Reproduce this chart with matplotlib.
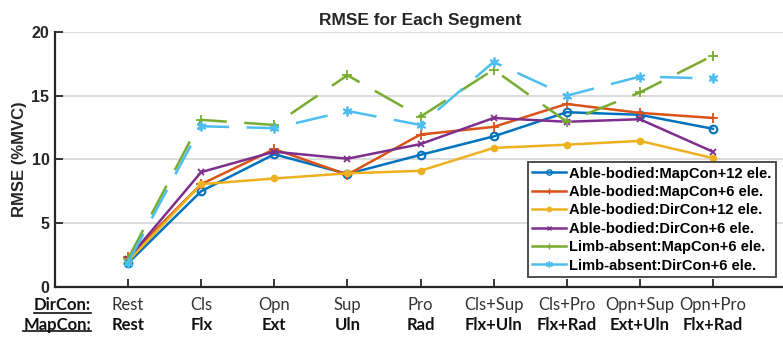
import matplotlib
matplotlib.use("Agg")
import matplotlib.pyplot as plt
from matplotlib.lines import Line2D
import matplotlib.transforms as mtrans

dircon_labels = ["Rest", "Cls", "Opn", "Sup", "Pro", "Cls+Sup", "Cls+Pro", "Opn+Sup", "Opn+Pro"]
mapcon_labels = ["Rest", "Flx", "Ext", "Uln", "Rad", "Flx+Uln", "Flx+Rad", "Ext+Uln", "Flx+Rad"]

ab_map12 = [1.85, 7.5, 10.4, 8.85, 10.35, 11.8, 13.7, 13.5, 12.4]
ab_map6 = [2.3, 8.05, 10.8, 8.8, 11.95, 12.55, 14.35, 13.65, 13.25]
ab_dir12 = [2.0, 8.05, 8.5, 8.9, 9.1, 10.9, 11.15, 11.45, 10.1]
ab_dir6 = [2.2, 9.0, 10.6, 10.05, 11.2, 13.25, 12.95, 13.15, 10.6]
la_map6 = [2.2, 13.1, 12.7, 16.6, 13.35, 17.05, 12.95, 15.25, 18.15]
la_dir6 = [1.9, 12.6, 12.45, 13.8, 12.7, 17.65, 15.0, 16.5, 16.35]

series_names = ["Able-bodied:MapCon+12 ele.", "Able-bodied:MapCon+6 ele.",
                "Able-bodied:DirCon+12 ele.", "Able-bodied:DirCon+6 ele.",
                "Limb-absent:MapCon+6 ele.", "Limb-absent:DirCon+6 ele."]

x = list(range(1, len(dircon_labels) + 1))

fig = plt.figure(figsize=(7.83, 3.37), dpi=100)
ax = fig.add_axes([55/783, (337-286.7)/337, 731/783, (286.7-32)/337])

base = "Liberation Sans"
styles = [
    dict(color="#0072BD", marker="o", ms=5.5, mfc="none", mew=1.5, ls="-"),
    dict(color="#D95319", marker="+", ms=7, mew=1.3, ls="-"),
    dict(color="#EDB120", marker="o", ms=4.5, mfc="#EDB120", mew=1, ls="-"),
    dict(color="#7E2F8E", marker="x", ms=5, mew=1.3, ls="-"),
    dict(color="#77AC30", marker="+", ms=7, mew=1.3, ls=(0, (13, 7))),
    dict(color="#4DBEEE", marker=(6, 2, 0), ms=7, mew=1.3, ls=(0, (13, 7))),
]
data = [ab_map12, ab_map6, ab_dir12, ab_dir6, la_map6, la_dir6]
handles = []
for ys, st, name in zip(data, styles, series_names):
    ax.plot(x, ys, lw=1.8, label=name, **st)
    handles.append(Line2D([], [], color=st["color"], marker=st["marker"], ms=st["ms"]*0.7,
                          mfc=st.get("mfc", st["color"]), mew=1, lw=1.8, ls="-"))

ax.set_xlim(0, 10)
ax.set_ylim(0, 20)
ax.set_yticks([0, 5, 10, 15, 20])
ax.set_xticks(x)
ax.set_xticklabels([])
ax.yaxis.grid(True, color="#d9d9d9", lw=1.3)
ax.set_axisbelow(True)
for s in ["top", "right"]:
    ax.spines[s].set_visible(False)
for s in ["left", "bottom"]:
    ax.spines[s].set_linewidth(1.6)
    ax.spines[s].set_color("#262626")
ax.tick_params(direction="in", length=6, width=1.3, color="#262626")
for lbl in ax.get_yticklabels():
    lbl.set_fontfamily(base)
    lbl.set_fontweight("bold")
    lbl.set_fontsize(11.5)
    lbl.set_color("#262626")
ax.tick_params(axis="y", pad=4)

ax.set_ylabel("RMSE (%MVC)", fontfamily=base, fontweight="bold", fontsize=12, color="#262626", labelpad=3)
ax.set_title("RMSE for Each Segment", fontfamily=base, fontweight="bold", fontsize=12.5, color="#262626", pad=5)

leg = ax.legend(handles, series_names, loc="lower right",
                bbox_to_anchor=(776/783, (337-277)/337), bbox_transform=fig.transFigure,
                prop=dict(family=base, weight="bold", size=10.6),
                handlelength=2.3, handletextpad=0.2, labelspacing=0.3, borderpad=0.3,
                fancybox=False, framealpha=1, edgecolor="#404040", borderaxespad=0)
leg.get_frame().set_linewidth(1.3)

xfont = "Lato"
y1 = 1 - 305/337
y2 = 1 - 325/337
blend = mtrans.blended_transform_factory(ax.transData, fig.transFigure)
for xi, a, b in zip(x, dircon_labels, mapcon_labels):
    ax.text(xi, y1, a, transform=blend, ha="center", va="center", fontfamily=xfont,
            fontsize=12, color="#333333", clip_on=False)
    ax.text(xi, y2, b, transform=blend, ha="center", va="center", fontfamily=xfont,
            fontsize=12, fontweight="bold", color="#111111", clip_on=False)

t1 = fig.text(91/783, y1, "DirCon:", ha="right", va="center", fontfamily=xfont, fontsize=12,
              fontweight="bold", color="#111111")
t2 = fig.text(91/783, y2, "MapCon:", ha="right", va="center", fontfamily=xfont, fontsize=12,
              fontweight="bold", color="#111111")
fig.canvas.draw()
r = fig.canvas.get_renderer()
for t, uy in [(t1, 312.5), (t2, 331)]:
    bb = t.get_window_extent(r)
    fig.add_artist(Line2D([bb.x0/783, bb.x1/783], [1 - uy/337, 1 - uy/337],
                          transform=fig.transFigure, color="#111111", lw=1.2))

fig.savefig("out.png", dpi=100)
